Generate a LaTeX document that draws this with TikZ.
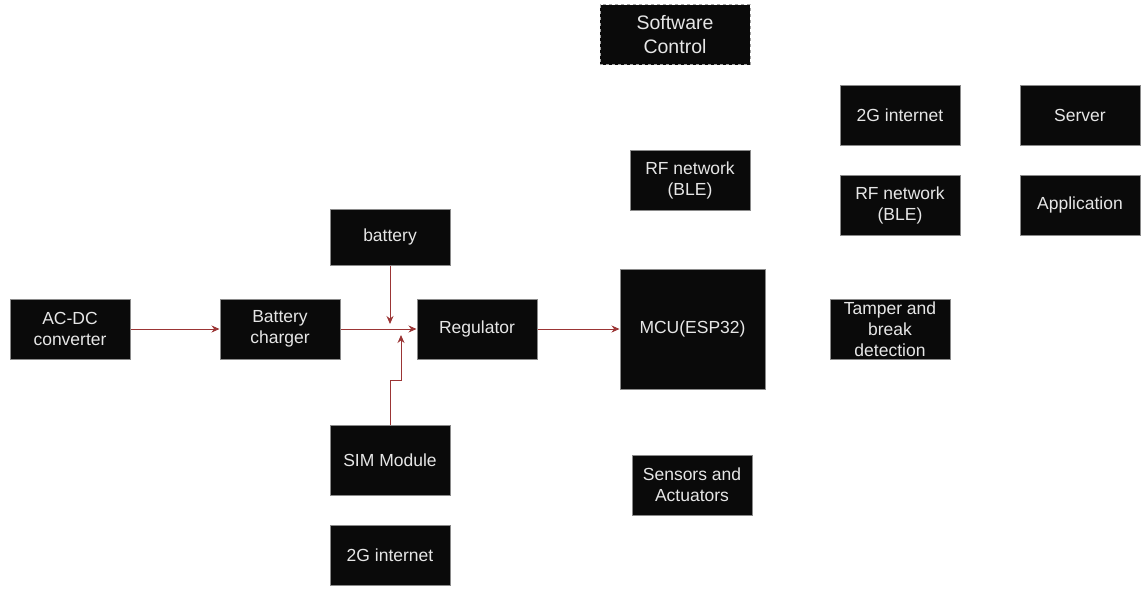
\documentclass[tikz,border=0pt]{standalone}
\usepackage{fontspec}
\setmainfont{Liberation Sans}
\usetikzlibrary{arrows.meta}
\definecolor{boxfill}{HTML}{0A0A0A}
\definecolor{boxline}{HTML}{8A8A8A}
\definecolor{txt}{HTML}{E6E6E6}
\definecolor{wire}{HTML}{9B3535}
\tikzset{
  blk/.style={draw=boxline, line width=1pt, fill=boxfill, text=txt, align=center,
    font=\fontsize{17.5}{21}\selectfont, inner sep=0pt},
  wirearrow/.style={draw=wire, line width=1pt, -{Stealth[length=8pt,width=7pt]}},
  wireline/.style={draw=wire, line width=1pt}
}
\begin{document}
\begin{tikzpicture}[x=1pt,y=-1pt]
\useasboundingbox (0,0) rectangle (1148,594);
% boxes: center, width, height
\node[blk, dashed, draw=boxline!80, font=\fontsize{19.5}{24}\selectfont, minimum width=150pt, minimum height=60pt] (sw) at (675,35) {Software\\Control};
\node[blk, minimum width=120pt, minimum height=60pt] (g2a) at (900,115) {2G internet};
\node[blk, minimum width=120pt, minimum height=60pt] (srv) at (1080,115) {Server};
\node[blk, minimum width=120pt, minimum height=60pt] (rf1) at (690,180) {RF network\\(BLE)};
\node[blk, minimum width=120pt, minimum height=60pt] (rf2) at (900,205) {RF network\\(BLE)};
\node[blk, minimum width=120pt, minimum height=60pt] (app) at (1080,205) {Application};
\node[blk, minimum width=120pt, minimum height=56pt] (bat) at (390,237) {battery};
\node[blk, minimum width=120pt, minimum height=60pt] (acdc) at (70,329) {AC-DC\\converter};
\node[blk, minimum width=120pt, minimum height=60pt] (chg) at (280,329) {Battery\\charger};
\node[blk, minimum width=120pt, minimum height=60pt] (reg) at (477,329) {Regulator};
\node[blk, minimum width=145pt, minimum height=120pt] (mcu) at (692.5,329) {MCU(ESP32)};
\node[blk, minimum width=120pt, minimum height=60pt] (tmp) at (890,329) {Tamper and\\break\\detection};
\node[blk, minimum width=120pt, minimum height=70pt] (sim) at (390,460) {SIM Module};
\node[blk, minimum width=120pt, minimum height=60pt] (sens) at (692,485) {Sensors and\\Actuators};
\node[blk, minimum width=120pt, minimum height=60pt] (g2b) at (390,555) {2G internet};
% free ends
\coordinate (batend) at (390,324);
\coordinate (simbend1) at (390,380);
\coordinate (simbend2) at (401,380);
\coordinate (simend) at (401,335);
% connectors
\draw[wirearrow] (acdc.east) -- (chg.west);
\draw[wirearrow] (chg.east) -- (reg.west);
\draw[wirearrow] (bat.south) -- (batend);
\draw[wirearrow] (sim.north) -- (simbend1) -- (simbend2) -- (simend);
\draw[wirearrow] (reg.east) -- (mcu.west);
\end{tikzpicture}
\end{document}
